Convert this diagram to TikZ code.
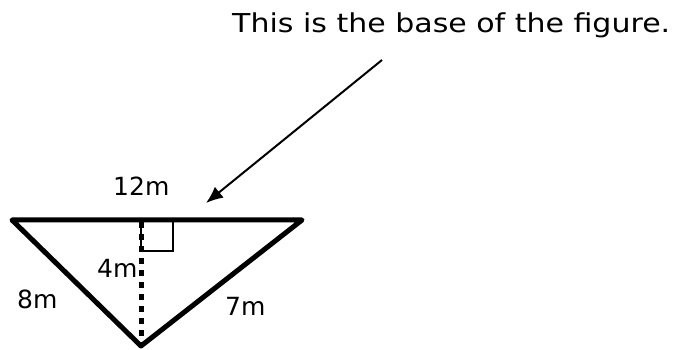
\documentclass[tikz,border=0pt]{standalone}
\usepackage{fontspec}
\setmainfont{DejaVu Sans}
\usetikzlibrary{arrows.meta}
\tikzset{
  lbl/.style={inner sep=0pt, font=\fontsize{25}{30}\selectfont},
  edge/.style={line width=5pt, line join=round, line cap=round},
  height/.style={line width=5pt, dash pattern=on 6pt off 6pt},
  pointer/.style={line width=2pt, -{Latex[length=17pt,width=14pt]}},
}
\begin{document}
\begin{tikzpicture}[x=1pt,y=-1pt]
\useasboundingbox (0,0) rectangle (678,350);
\coordinate (A) at (12,220);
\coordinate (B) at (302,220);
\coordinate (C) at (141,346);
\coordinate (H) at (141,222);
\coordinate (S) at (382,60);
\coordinate (T) at (206,203);
\draw[height] (H) -- (C);
\draw[line width=1.5pt] (141,220) rectangle (173,251);
\draw[edge] (A) -- (B) -- (C) -- cycle;
\draw[pointer] (S) -- (T);
\node[lbl, anchor=base west] (title) at (232,33) {\scalebox{1.2}[1.04]{This is the base of the figure.}};
\node[lbl, anchor=base west] (l12) at (113,196) {12m};
\node[lbl, anchor=base west] (l4) at (97,277) {4m};
\node[lbl, anchor=base west] (l8) at (17,308) {8m};
\node[lbl, anchor=base west] (l7) at (225,315) {7m};
\end{tikzpicture}
\end{document}
